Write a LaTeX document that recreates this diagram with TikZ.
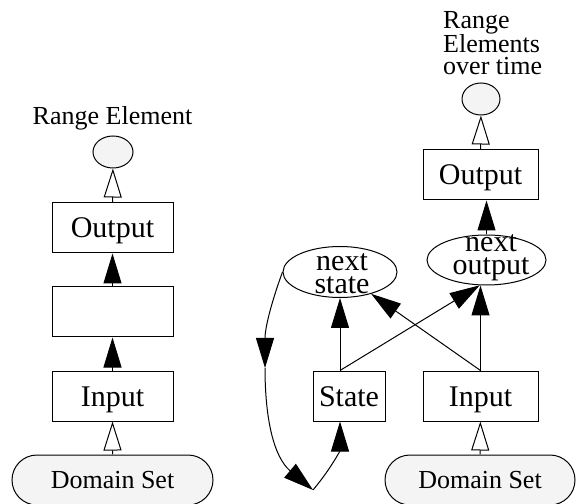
\documentclass[tikz,border=0pt]{standalone}
\usepackage{fontspec}
\setmainfont{Liberation Serif}
\usepackage{xcolor}
\usepackage{tikz}
\usetikzlibrary{arrows.meta,shapes.geometric,shapes.misc}
\definecolor{ink}{HTML}{000000}
\definecolor{pale}{HTML}{F4F4F4}
\tikzset{
  box/.style={draw=ink, line width=1pt, minimum width=121pt, minimum height=50pt, inner sep=0pt,
    font=\fontsize{30}{23}\selectfont, text height=20pt, text depth=0pt},
  oval/.style={draw=ink, line width=1pt, ellipse, inner sep=0pt},
  blob/.style={oval, fill=pale},
  dom/.style={draw=ink, line width=1pt, rounded rectangle, fill=pale, minimum height=50pt, inner sep=0pt,
    font=\fontsize{26}{22}\selectfont, text height=17pt, text depth=0pt},
  lab/.style={inner sep=0pt, font=\fontsize{26}{22}\selectfont},
  ovtext/.style={inner sep=0pt, align=center, font=\fontsize{30}{23}\selectfont},
  fedge/.style={draw=ink, line width=1pt, -{Triangle[length=30pt,width=18pt]}},
  oedge/.style={draw=ink, line width=1pt, -{Triangle[open,length=29pt,width=18pt]}},
}

\begin{document}
\begin{tikzpicture}[x=1pt,y=1pt]
  \useasboundingbox (0,0) rectangle (577,503);

  % left: one input, one output
  \node[lab, anchor=base] (lrange) at (112.5,378) {Range Element};
  \node[blob, minimum width=40pt, minimum height=32pt] (lrelem) at (113,351) {};
  \node[box] (lout) at (112.5,275) {Output};
  \node[box] (lmid) at (112.5,191) {};
  \node[box] (lin) at (112.5,107) {Input};
  \node[dom, minimum width=201pt] (ldom) at (112.5,23) {Domain Set};

  \draw[oedge] (ldom) -- (lin);
  \draw[fedge] (lin) -- (lmid);
  \draw[fedge] (lmid) -- (lout);
  \draw[oedge] (lout) -- (lrelem);

  % right: with a state fed back
  \node[lab, anchor=north west, align=left] (rrange) at (443,492) {Range\\Elements\\over time};
  \node[blob, minimum width=38pt, minimum height=32pt] (rrelem) at (481,404) {};
  \node[box, minimum width=115pt] (rout) at (480.5,328) {Output};
  \node[oval, minimum width=119pt, minimum height=50pt] (nout) at (486.5,243) {};
  \node[ovtext] (nouttext) at (491,245) {next\\output};
  \node[oval, minimum width=114pt, minimum height=51pt] (nst) at (340,231) {};
  \node[ovtext] (nsttext) at (342,229) {next\\state};
  \node[box, minimum width=72pt] (st) at (349,107) {State};
  \node[box, minimum width=115pt] (rin) at (480.5,107) {Input};
  \node[dom, minimum width=190pt] (rdom) at (480,23) {Domain Set};
  \coordinate (c1) at (265,135);
  \coordinate (c2) at (313,13);

  \draw[oedge] (rdom) -- (rin);
  \draw[fedge] (rin.north) -- (rin.north |- nout.south);
  \draw[fedge] (rin.north) -- (nst);
  \draw[fedge] (st.north -| nst.south) -- (nst.south);
  \draw[fedge] (st.north -| nst.south) -- (nout.255);
  \draw[fedge] (nout.north) -- (nout.north |- rout.south);
  \draw[oedge] (rout) -- (rrelem);

  % feedback loop
  \draw[fedge] (nst.west) to[out=-110,in=90] (c1);
  \draw[fedge] (c1) to[out=-90,in=140] (c2);
  \draw[fedge] (c2) to[out=50,in=-90] (st.south -| nst.south);
\end{tikzpicture}
\end{document}
